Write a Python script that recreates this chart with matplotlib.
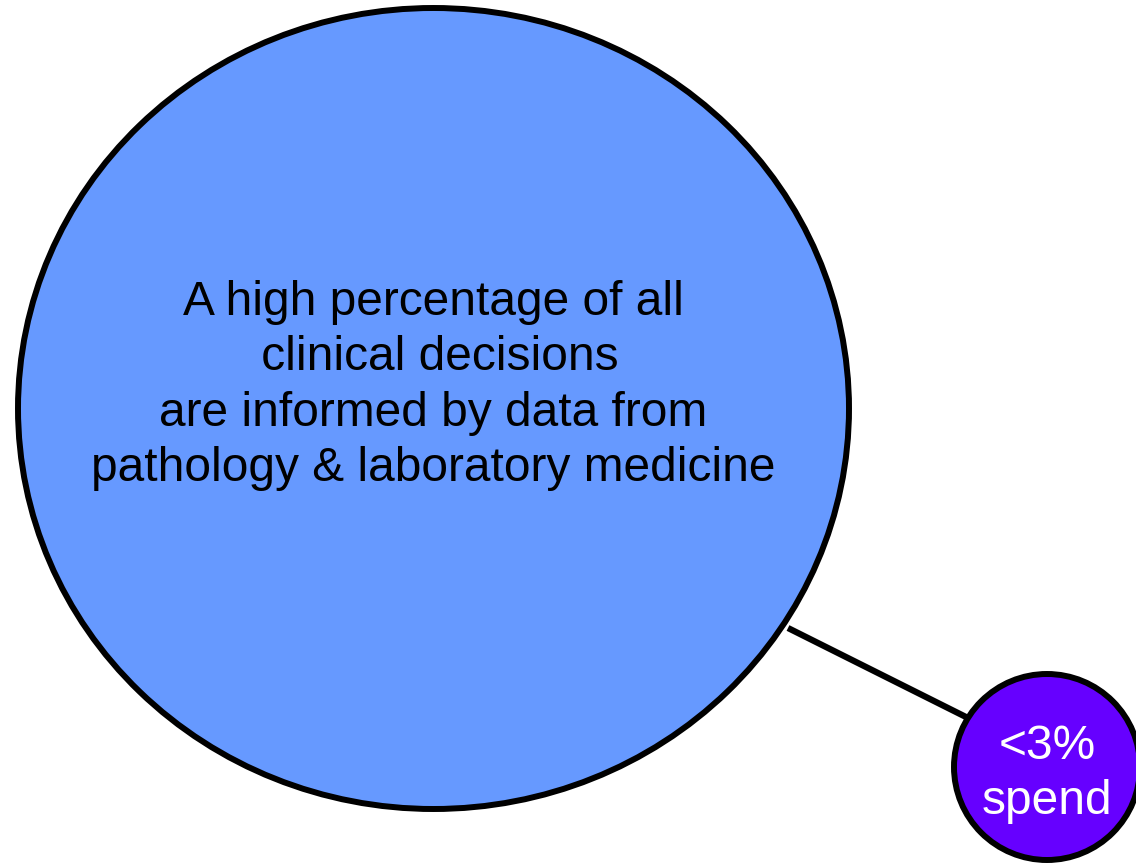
import matplotlib
matplotlib.use("Agg")
import matplotlib.pyplot as plt
from matplotlib.patches import Ellipse

plt.rcParams['font.family'] = ['Liberation Sans', 'DejaVu Sans']

# bubble data: label, centre, size (width, height), fill colour, text colour
labels = ["A high percentage of all\n clinical decisions\nare informed by data from\npathology & laboratory medicine",
          "<3%\nspend"]
centers_x = [433.5, 1047]
centers_y = [408.5, 767]
widths = [831, 186]
heights = [801, 186]
fills = ["#6699FF", "#6600FF"]
text_colors = ["black", "white"]
font_sizes = [34.5, 34.5]
text_shift = [-23, 7]

# connector between the two bubbles
link_x = [788, 968]
link_y = [628, 718]

fig = plt.figure(figsize=(11.36, 8.67), dpi=100)
ax = fig.add_axes([0, 0, 1, 1])
ax.set_xlim(0, 1136)
ax.set_ylim(867, 0)
ax.axis('off')

ax.plot(link_x, link_y, color='black', lw=4.5, solid_capstyle='butt', zorder=1)

for i in range(len(labels)):
    e = Ellipse((centers_x[i], centers_y[i]), widths[i], heights[i],
                facecolor=fills[i], edgecolor='black', lw=4.3, zorder=2)
    ax.add_patch(e)
    ax.text(centers_x[i], centers_y[i] + text_shift[i], labels[i],
            ha='center', va='center', fontsize=font_sizes[i],
            color=text_colors[i], linespacing=1.3, zorder=3)

plt.savefig('out.png', dpi=100)
